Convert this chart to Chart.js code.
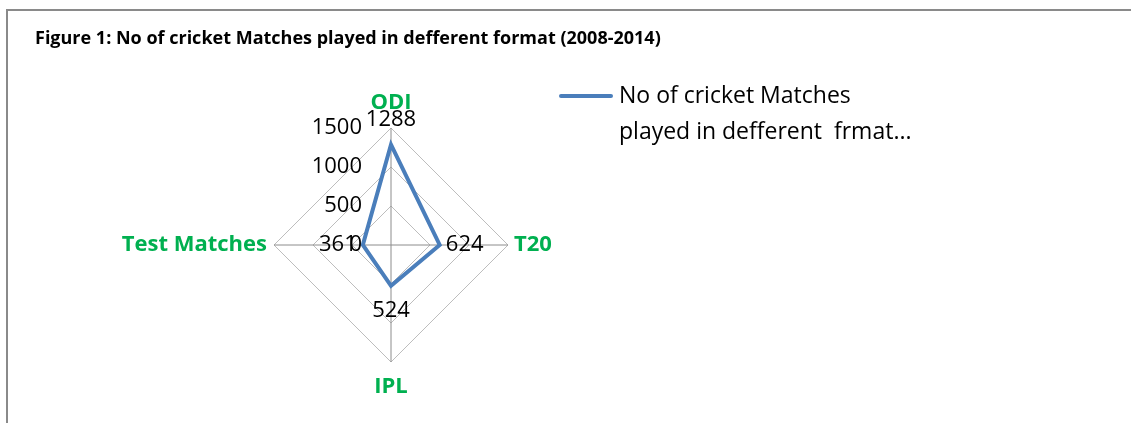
<!DOCTYPE html>
<html>
<head>
<meta charset="utf-8">
<script src="https://cdn.jsdelivr.net/npm/chart.js@4.4.1/dist/chart.umd.min.js"></script>
<style>
  html, body { margin: 0; padding: 0; background: #fff; }
  #wrap { position: relative; width: 1131px; height: 423px; overflow: hidden; }
  #frame { position: absolute; left: 6px; top: 9px; width: 1200px; height: 500px;
           border-top: 2px solid #8a8a8a; border-left: 2px solid #8a8a8a; }
  canvas { position: absolute; left: 0; top: 0; }
</style>
</head>
<body>
<div id="wrap">
  <div id="frame"></div>
  <canvas id="radarChart" width="1131" height="423"></canvas>
</div>
<script>
// data
const formats = ['ODI', 'T20', 'IPL', 'Test Matches'];
const matchCounts = [1288, 624, 524, 361];
const scaleTicks = [0, 500, 1000, 1500];
const titleText = 'Figure 1: No of cricket Matches played in defferent format (2008-2014)';
const seriesName = 'No of cricket Matches played in defferent frmat...';
const legendLines = ['No of cricket Matches', 'played in defferent  frmat...'];

const lineBlue = '#4a7ebb';
const labelFont = '22px "Open Sans"';

// tick labels sit left of the ODI axis, right aligned
const tickLabels = {
    id: 'tickLabels',
    afterDraw(chart) {
        const scale = chart.scales.r;
        const ctx = chart.ctx;
        ctx.save();
        ctx.font = labelFont;
        ctx.fillStyle = '#000';
        ctx.textAlign = 'right';
        ctx.textBaseline = 'middle';
        scaleTicks.forEach(v => {
            const d = scale.getDistanceFromCenterForValue(v);
            ctx.fillText(String(v), scale.xCenter - 29, scale.yCenter - d);
        });
        ctx.restore();
    }
};

// value labels pushed outward from the centre
const valueLabels = {
    id: 'valueLabels',
    afterDatasetsDraw(chart) {
        const scale = chart.scales.r;
        const meta = chart.getDatasetMeta(0);
        const ctx = chart.ctx;
        ctx.save();
        ctx.font = labelFont;
        ctx.fillStyle = '#000';
        ctx.textAlign = 'center';
        ctx.textBaseline = 'middle';
        meta.data.forEach((pt, i) => {
            const dx = pt.x - scale.xCenter;
            const dy = pt.y - scale.yCenter;
            const len = Math.hypot(dx, dy) || 1;
            ctx.fillText(String(matchCounts[i]), pt.x + dx / len * 25, pt.y + dy / len * 25);
        });
        ctx.restore();
    }
};

// legend on the right, wrapped over two lines like the original
const sideLegend = {
    id: 'sideLegend',
    afterDraw(chart) {
        const ctx = chart.ctx;
        ctx.save();
        ctx.strokeStyle = chart.data.datasets[0].borderColor;
        ctx.lineWidth = 4;
        ctx.lineCap = 'round';
        ctx.beginPath();
        ctx.moveTo(561, 96);
        ctx.lineTo(611, 96);
        ctx.stroke();
        ctx.font = '23px "Open Sans"';
        ctx.fillStyle = '#000';
        ctx.textBaseline = 'alphabetic';
        legendLines.forEach((t, i) => ctx.fillText(t, 619, 103 + i * 36));
        ctx.restore();
    }
};

const ctx = document.getElementById('radarChart').getContext('2d');
const radarChart = new Chart(ctx, {
    type: 'radar',
    data: {
        labels: formats,
        datasets: [{
            label: seriesName,
            data: matchCounts,
            borderColor: lineBlue,
            backgroundColor: 'transparent',
            borderWidth: 4,
            fill: false,
            pointRadius: 0,
            pointHoverRadius: 0
        }]
    },
    options: {
        responsive: false,
        animation: false,
        layout: { padding: { left: 35, right: 384, top: 0, bottom: 23 } },
        plugins: {
            legend: { display: false },
            tooltip: { enabled: false },
            title: {
                display: true,
                text: titleText,
                align: 'start',
                color: '#000',
                font: { family: 'Open Sans', size: 18, weight: 'bold', lineHeight: '19px' },
                padding: { top: 29, bottom: 42 }
            }
        },
        scales: {
            r: {
                min: 0,
                max: 1500,
                ticks: { stepSize: 500, display: false },
                grid: { color: '#bdbdbd', lineWidth: 1 },
                angleLines: { color: '#8c8c8c', lineWidth: 1 },
                pointLabels: {
                    color: '#00b050',
                    font: { family: 'Open Sans', size: 22, weight: 'bold', lineHeight: '26px' },
                    padding: c => [12, 6, 12, 7][c.index]
                }
            }
        }
    },
    plugins: [valueLabels, tickLabels, sideLegend]
});
</script>
</body>
</html>
